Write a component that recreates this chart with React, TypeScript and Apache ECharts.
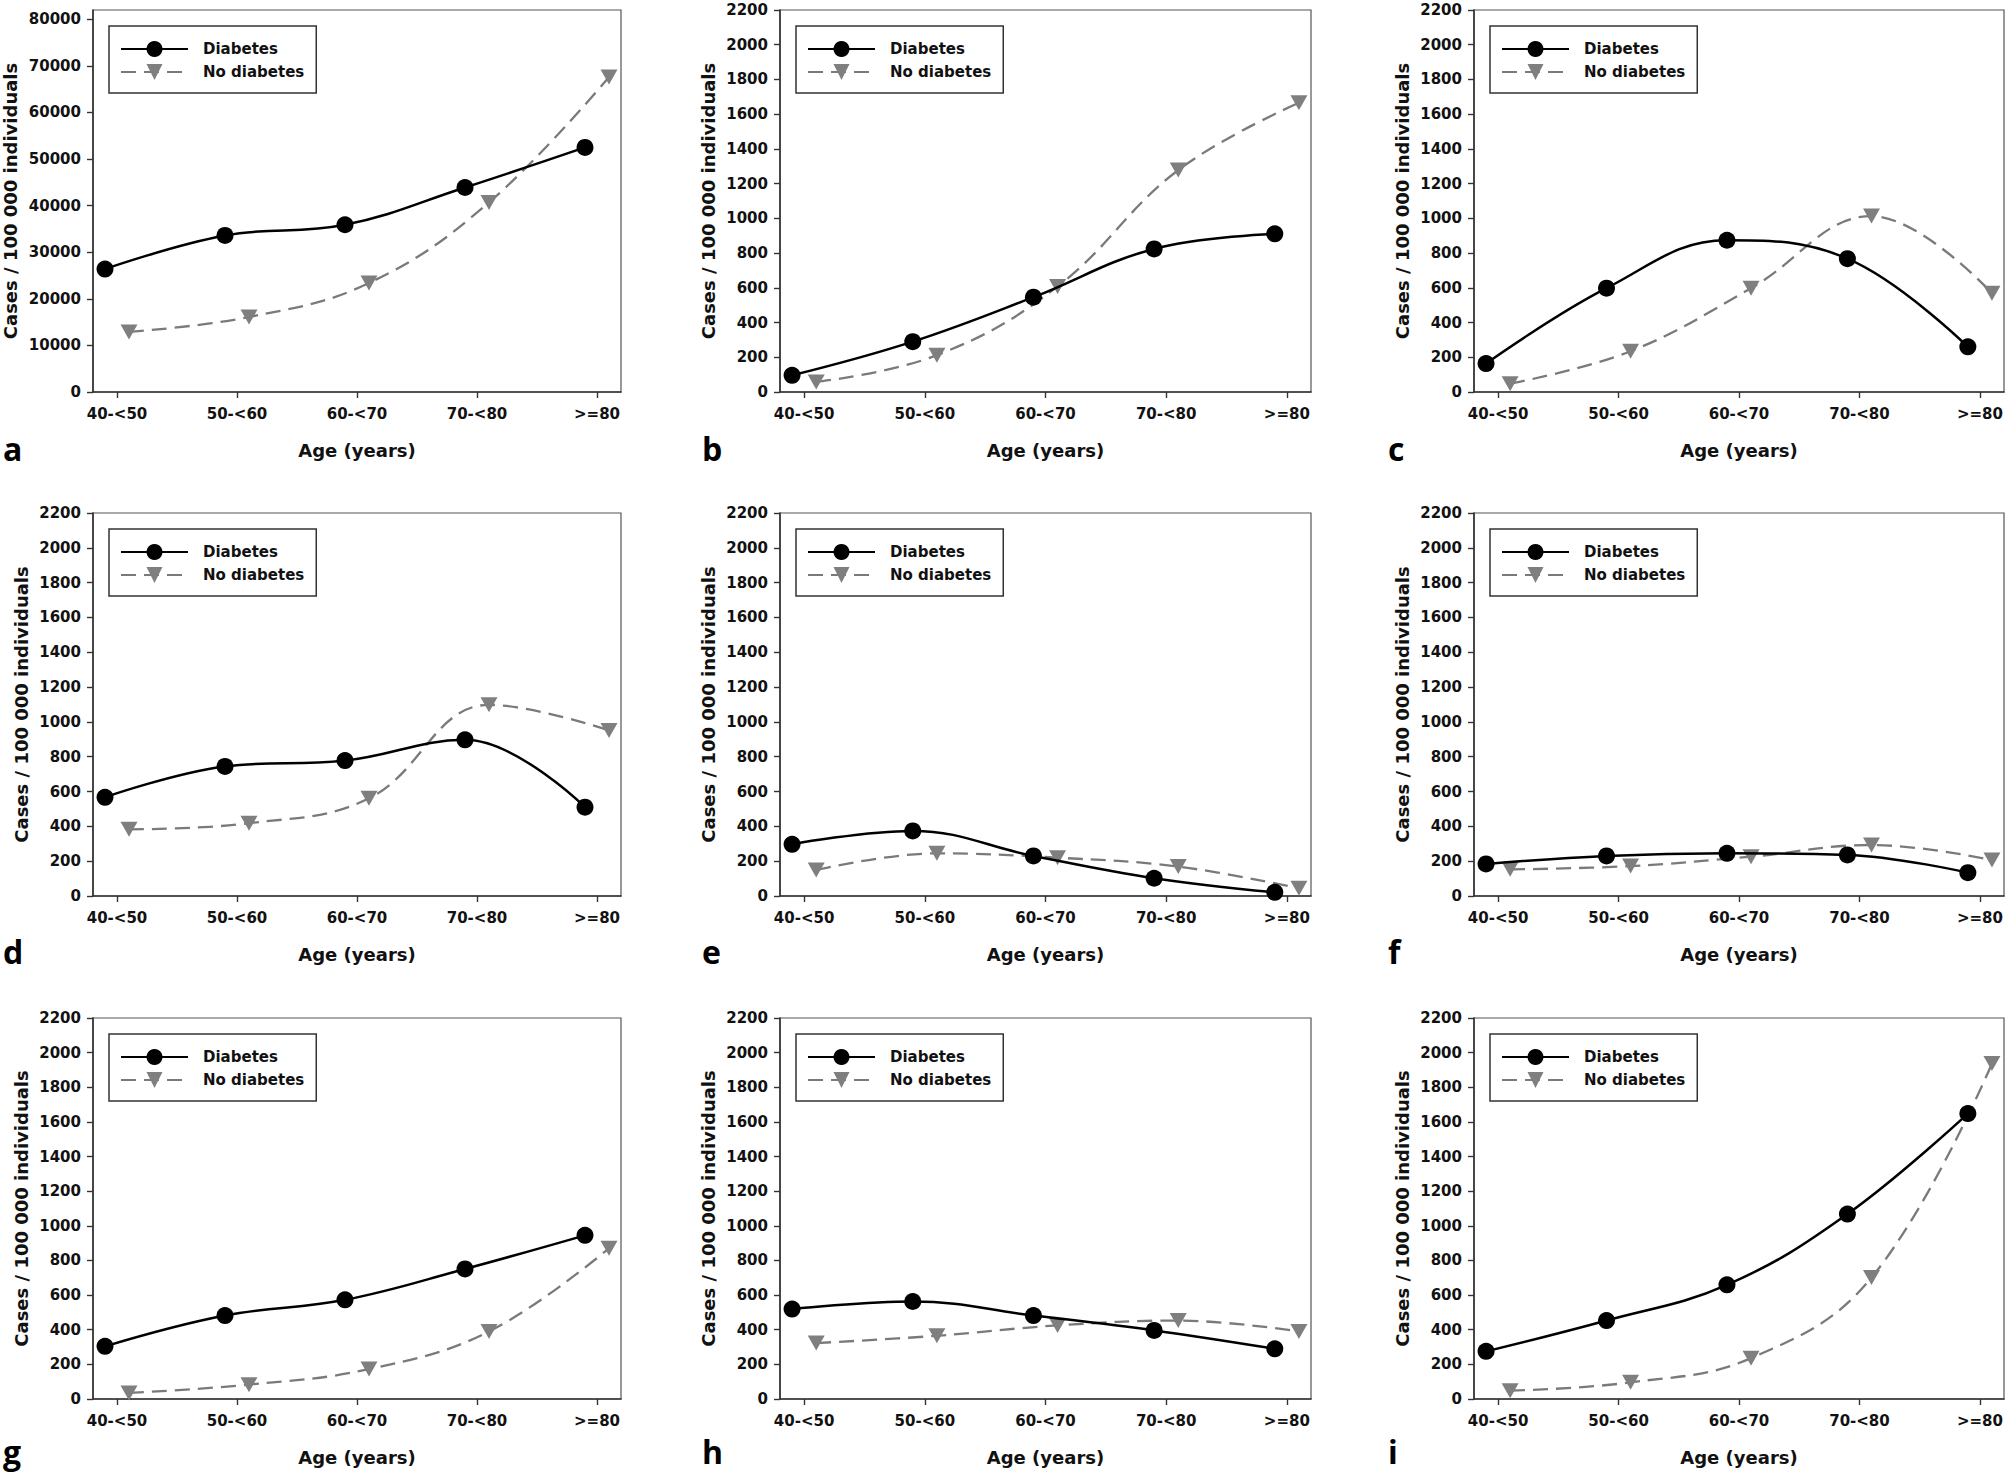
import React, { useEffect, useRef } from "react";
import * as echarts from "echarts";

const AGE_GROUPS = ["40-<50", "50-<60", "60-<70", "70-<80", ">=80"];
const PANEL_LETTERS = ["a", "b", "c", "d", "e", "f", "g", "h", "i"];
const SERIES_NAMES = ["Diabetes", "No diabetes"];

const DIABETES_A = [26400, 33600, 35900, 43900, 52500];
const NO_DIABETES_A = [12900, 16100, 23400, 40700, 67600];
const DIABETES_B = [96, 290, 546, 824, 911];
const NO_DIABETES_B = [58, 212, 608, 1278, 1666];
const DIABETES_C = [164, 598, 874, 768, 260];
const NO_DIABETES_C = [48, 235, 598, 1013, 569];
const DIABETES_D = [567, 744, 778, 897, 510];
const NO_DIABETES_D = [383, 418, 561, 1098, 951];
const DIABETES_E = [297, 374, 230, 102, 21];
const NO_DIABETES_E = [149, 245, 220, 169, 44];
const DIABETES_F = [184, 230, 245, 236, 134];
const NO_DIABETES_F = [153, 172, 226, 293, 207];
const DIABETES_G = [304, 482, 573, 751, 945];
const NO_DIABETES_G = [35, 83, 173, 390, 870];
const DIABETES_H = [519, 563, 482, 396, 290];
const NO_DIABETES_H = [323, 365, 425, 453, 390];
const DIABETES_I = [275, 453, 659, 1068, 1648];
const NO_DIABETES_I = [48, 96, 236, 701, 1937];

const Y_TICKS_A = [0, 10000, 20000, 30000, 40000, 50000, 60000, 70000, 80000];
const Y_TICKS = [0, 200, 400, 600, 800, 1000, 1200, 1400, 1600, 1800, 2000, 2200];

const DIABETES = [DIABETES_A, DIABETES_B, DIABETES_C, DIABETES_D, DIABETES_E, DIABETES_F, DIABETES_G, DIABETES_H, DIABETES_I];
const NO_DIABETES = [NO_DIABETES_A, NO_DIABETES_B, NO_DIABETES_C, NO_DIABETES_D, NO_DIABETES_E, NO_DIABETES_F, NO_DIABETES_G, NO_DIABETES_H, NO_DIABETES_I];

const FONT = "DejaVu Sans";
const COL_LEFT = [93, 780, 1474];
const COL_WIDTH = [528, 531, 530];
const ROW_TOP = [10, 513, 1018];
const ROW_HEIGHT = [382, 383, 381];
const LETTER_X = [3, 702, 1388];
const LETTER_Y = [448, 951, 1451];
const OFFSET = 0.1;

function buildOption() {
  const grids: any[] = [];
  const xAxes: any[] = [];
  const yAxes: any[] = [];
  const series: any[] = [];
  const legends: any[] = [];
  const graphics: any[] = [];

  for (let p = 0; p < 9; p++) {
    const r = Math.floor(p / 3);
    const c = p % 3;
    const isA = p === 0;
    grids.push({
      left: COL_LEFT[c],
      top: ROW_TOP[r],
      width: COL_WIDTH[c],
      height: ROW_HEIGHT[r],
      show: true,
      borderColor: "#555",
      borderWidth: 1.2,
      backgroundColor: "transparent",
      containLabel: false,
    });
    xAxes.push({
      type: "value",
      gridIndex: p,
      min: -0.2,
      max: 4.2,
      name: "Age (years)",
      nameLocation: "middle",
      nameGap: 49,
      nameTextStyle: { fontFamily: FONT, fontWeight: "bold", fontSize: 18, color: "#111" },
      axisLine: { show: true, onZero: false, lineStyle: { color: "#333", width: 1.6 } },
      axisTick: {
        show: true,
        inside: false,
        length: 6,
        customValues: [0, 1, 2, 3, 4],
        lineStyle: { color: "#333", width: 1.4 },
      },
      axisLabel: {
        customValues: [0, 1, 2, 3, 4],
        margin: 14,
        fontFamily: FONT,
        fontWeight: "bold",
        fontSize: 15,
        color: "#111",
        formatter: (v: number) => AGE_GROUPS[Math.round(v)] ?? "",
      },
      splitLine: { show: false },
    });
    const ticks = isA ? Y_TICKS_A : Y_TICKS;
    yAxes.push({
      type: "value",
      gridIndex: p,
      min: 0,
      max: isA ? 82000 : 2200,
      name: "Cases / 100 000 individuals",
      nameLocation: "middle",
      nameGap: isA ? 74 : 63,
      nameTextStyle: { fontFamily: FONT, fontWeight: "bold", fontSize: 18, color: "#111" },
      axisLine: { show: true, onZero: false, lineStyle: { color: "#333", width: 1.6 } },
      axisTick: { show: true, inside: false, length: 6, customValues: ticks, lineStyle: { color: "#333", width: 1.4 } },
      axisLabel: {
        customValues: ticks,
        margin: 12,
        fontFamily: FONT,
        fontWeight: "bold",
        fontSize: 15,
        color: "#111",
        formatter: (v: number) => String(v),
      },
      splitLine: { show: false },
    });
    series.push({
      name: SERIES_NAMES[1],
      type: "line",
      xAxisIndex: p,
      yAxisIndex: p,
      data: NO_DIABETES[p].map((v, i) => [i + OFFSET, v]),
      smooth: 0.4,
      symbol: "triangle",
      symbolRotate: 180,
      symbolSize: [17, 15],
      itemStyle: { color: "#7f7f7f" },
      lineStyle: { color: "#7a7a7a", width: 2.3, type: [15, 8] },
      z: 2,
    });
    series.push({
      name: SERIES_NAMES[0],
      type: "line",
      xAxisIndex: p,
      yAxisIndex: p,
      data: DIABETES[p].map((v, i) => [i - OFFSET, v]),
      smooth: 0.4,
      symbol: "circle",
      symbolSize: 17,
      itemStyle: { color: "#000" },
      lineStyle: { color: "#000", width: 2.5, type: "solid" },
      z: 3,
    });
    legends.push({
      show: true,
      orient: "vertical",
      left: COL_LEFT[c] + 16,
      top: ROW_TOP[r] + 16,
      data: SERIES_NAMES,
      selectedMode: false,
      itemWidth: 67,
      itemHeight: 20,
      itemGap: 7,
      padding: [15, 12, 13, 11],
      borderColor: "#333",
      borderWidth: 1.5,
      backgroundColor: "#fff",
      textStyle: { fontFamily: FONT, fontWeight: "bold", fontSize: 15, color: "#111", padding: [0, 0, 0, 10] },
    });
    graphics.push({
      type: "text",
      x: LETTER_X[c],
      y: LETTER_Y[r],
      style: {
        text: PANEL_LETTERS[p],
        font: "bold 32px 'Open Sans'",
        fill: "#000",
        textVerticalAlign: "middle",
      },
    });
  }

  return {
    animation: false,
    backgroundColor: "#fff",
    grid: grids,
    xAxis: xAxes,
    yAxis: yAxes,
    legend: legends,
    series,
    graphic: graphics,
  };
}

export default function App() {
  const ref = useRef<HTMLDivElement>(null);
  useEffect(() => {
    document.body.style.margin = "0";
    if (!ref.current) return;
    const chart = echarts.init(ref.current, undefined, { renderer: "svg" });
    chart.setOption(buildOption() as any);
    return () => chart.dispose();
  }, []);
  return <div ref={ref} style={{ position: "absolute", left: 0, top: 0, width: 2008, height: 1474 }} />;
}
